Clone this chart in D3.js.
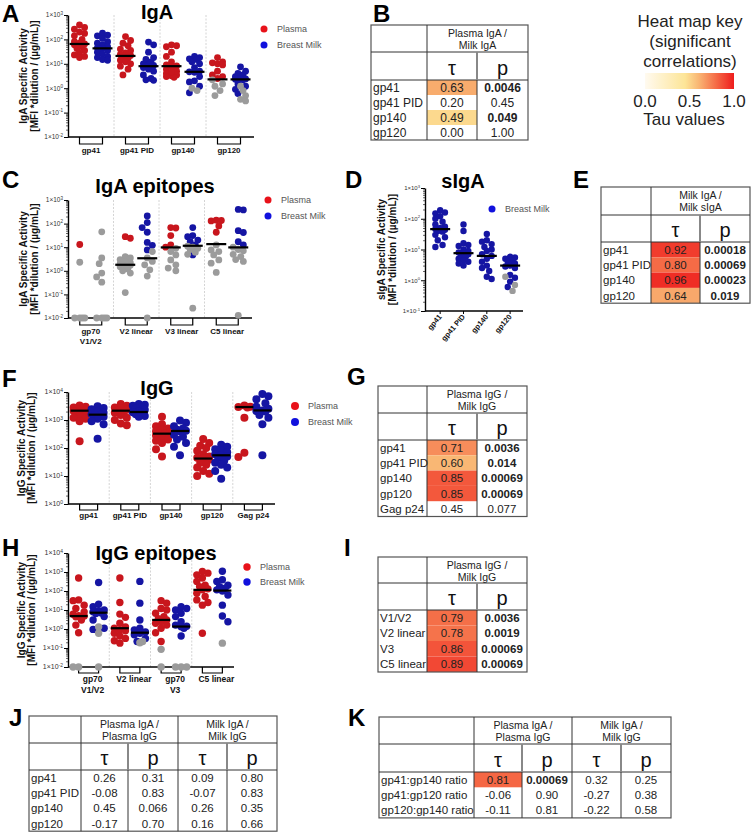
<!DOCTYPE html>
<html><head><meta charset="utf-8">
<script src="https://cdn.jsdelivr.net/npm/d3@7"></script>
<style>body{margin:0;background:#fff;} svg{display:block;}</style>
</head><body>
<svg id="chart" width="754" height="834"></svg>
<script>
// ---------------- DATA ----------------
// Panel A: IgA
const iga_cats = ["gp41","gp41 PID","gp140","gp120"];
const iga_plasma = [
  [390,310,260,200,175,140,100,80,70,65,60,50,42,35,28,23,18,20],
  [130,90,70,55,40,35,28,24,22,21,20,17,14,12,10,8,6,3.5],
  [60,55,50,30,20,12,9,8.2,8,7.5,6,5,4,3.5,3.2,3,2.8,4.5],
  [18,12,11,10,9,5,3.5,3,2.5]
];
const iga_plasma_grey = [[],[],[],[2.2,1.5,1.2,0.8,0.5]];
const iga_milk = [
  [180,150,140,110,80,70,60,50,45,43,40,35,30,25,20,18,15,14],
  [78,60,30,18,15,12,10,9,8.5,8,7.5,7,6,5,3.5,2.5,2.1,2.2],
  [20,18,16,15,12,10,7,5,4.7,4.5,3,2,1.8,1.2,0.65],
  [7.5,5,4,3.5,3,2.5,2.4,2.3,2.2,1.5,1.2,0.9,0.6]
];
const iga_milk_grey = [[],[],[1.0,0.8],[1.2,0.8,0.5,0.35,0.3]];
const iga_plasma_med = [65,21,8,2.3];
const iga_milk_med = [43,8,4.7,2.3];

// Panel C: IgA epitopes
const epiA_cats = ["gp70\nV1/V2","V2 linear","V3 linear","C5 linear"];
const epiA_plasma = [[13],[28,24],[68,65,31,12.5,10],[140,135,130,80,43]];
const epiA_plasma_grey = [[2.3,0.01,0.01,0.01,0.01],[4,3.5,3,2.5,2.2,2,1.9,1.8,1.7,1.6,1.5,1.2,1,0.8,0.12],[9,6.5,4.7,2.9,1.8,1.3,1],[12.5,7.7,6.5,4.7,2.9,2.1,0.85]];
const epiA_milk = [[],[210,110,68,43,16,12,7.7],[68,31,28,20,17,12.5,4.7],[400,380,50,42,17,12.5]];
const epiA_milk_grey = [[45,3.5,2,0.8,0.55,0.33,0.01,0.01,0.01,0.01],[6.5,3.5,2.5,1.8,1.1,0.6,0.01],[11,10,9,8,6,5,0.026],[10,8,7,5,4,3,2.5,0.013]];
const epiA_plasma_med = [null,1.8,9.8,13.5];
const epiA_milk_med = [null,3.4,11.5,9.8];

// Panel D: sIgA
const siga_cats = ["gp41","gp41 PID","gp140","gp120"];
const siga_milk = [
  [190,160,150,120,100,80,65,55,50,46,44,40,38,30,25,20,14,12],
  [65,40,16,14,13,10,9,8,7.6,7,6.5,6,5,4.5,4,3.5,3],
  [32,20,18,15,12,10,9,7,6.2,5,4,3,2.5,2,1.3,1.1],
  [5.8,5.5,5,4.5,4,3.5,3,2.8,2.5,1.5,1.2,0.9,0.6]
];
const siga_milk_grey = [[],[],[],[1.3,0.7,0.45]];
const siga_med = [46,7.6,6.2,3.0];

// Panel F: IgG
const igg_cats = ["gp41","gp41 PID","gp140","gp120","Gag p24"];
const igg_plasma = [
  [3300,3000,2800,2600,2400,2200,2150,2100,2000,1800,1600,1400,1200,1100,900,175],
  [3700,3200,2800,2600,2300,2150,2000,1800,1500,1200,1000,750,650],
  [1300,700,600,500,450,400,350,330,320,280,250,200,180,150,90,50],
  [210,150,120,100,80,60,50,45,42,38,30,25,20,15,12,10],
  [3300,3000,2900,2800,1200,68,48]
];
const igg_milk = [
  [3100,2700,2400,2000,1800,1600,1550,1500,1300,1100,900,700,215],
  [3700,3500,3200,2900,2600,2300,2000,1900,1800,1600,1400,1300],
  [950,800,600,500,450,410,400,300,250,200,150,110,55],
  [130,110,90,80,70,60,55,50,45,35,30,25,20,15,8],
  [8500,7000,5500,4000,3000,2500,2200,2100,2000,1500,1200,700,55]
];
const igg_plasma_med = [2150,2150,325,42,2900];
const igg_milk_med = [1550,1930,405,55,2200];

// Panel H: IgG epitopes
const epiG_cats = ["gp70\nV1/V2","V2 linear","gp70\nV3","C5 linear"];
const epiG_plasma = [
  [480,34,31,18,12,8,6,5,4.8,4.4,3,1.6,0.63],
  [480,25,6.1,4.1,2,1.3,1.1,0.9,0.8,0.6,0.43,0.32,0.24,0.18],
  [31,23,12,10,6.7,4.5,3.5,3,2.5,2,1.6,1.1,0.63,0.22],
  [1070,870,710,480,320,200,170,130,115,76,51,34,25,18,0.6]
];
const epiG_plasma_grey = [[0.01,0.01],[],[0.085,0.01],[]];
const epiG_milk = [
  [280,20,15,10,9,8,7,6.5,4.5,3,1.1,0.95],
  [320,23,3,1.1,0.9,0.7,0.6,0.5,0.32,0.22],
  [15,12,10,6.7,4.5,2.4,1.6,1.4,1.3,1.1,0.43],
  [1100,390,320,200,170,140,115,100,62,18,4.8,2.4]
];
const epiG_milk_grey = [[1.3,0.6,0.01],[0.22,0.19],[0.01,0.01,0.01],[0.18]];
const epiG_plasma_med = [4.8,1.1,3,115];
const epiG_milk_med = [7.2,0.64,1.35,105];

// Tables
const tabB_rows = ["gp41","gp41 PID","gp140","gp120"];
const tabB_tau = [0.63,0.20,0.49,0.00];
const tabB_p = ["0.0046","0.45","0.049","1.00"];

const tabE_rows = ["gp41","gp41 PID","gp140","gp120"];
const tabE_tau = [0.92,0.80,0.96,0.64];
const tabE_p = ["0.00018","0.00069","0.00023","0.019"];

const tabG_rows = ["gp41","gp41 PID","gp140","gp120","Gag p24"];
const tabG_tau = [0.71,0.60,0.85,0.85,0.45];
const tabG_p = ["0.0036","0.014","0.00069","0.00069","0.077"];

const tabI_rows = ["V1/V2","V2 linear","V3","C5 linear"];
const tabI_tau = [0.79,0.78,0.86,0.89];
const tabI_p = ["0.0036","0.0019","0.00069","0.00069"];

const tabJ_rows = ["gp41","gp41 PID","gp140","gp120"];
const tabJ_tau1 = [0.26,-0.08,0.45,-0.17];
const tabJ_p1 = ["0.31","0.83","0.066","0.70"];
const tabJ_tau2 = [0.09,-0.07,0.26,0.16];
const tabJ_p2 = ["0.80","0.83","0.35","0.66"];

const tabK_rows = ["gp41:gp140 ratio","gp41:gp120 ratio","gp120:gp140 ratio"];
const tabK_tau1 = [0.81,-0.06,-0.11];
const tabK_p1 = ["0.00069","0.90","0.81"];
const tabK_tau2 = [0.32,-0.27,-0.22];
const tabK_p2 = ["0.25","0.38","0.58"];

const keyTicks = [0.0, 0.5, 1.0];

// ---------------- DRAWING ----------------
const FONT = "'Liberation Sans', Arial, Helvetica, sans-serif";
const RED = "#c8161d", BLUE = "#1515a3", GREY = "#9b9b9b";
const LRED = "#e8121a", LBLUE = "#1111dd";
const svg = d3.select("#chart").attr("font-family", FONT);
const heat = d3.scaleLinear().domain([0,0.45,0.6,0.8,1])
  .range(["#fffaf0","#fde597","#f9b774","#f56b46","#ee1d1d"]);

function swarm(ys, r, maxOff) {
  const idx = d3.range(ys.length).sort((a,b) => ys[a]-ys[b]);
  const off = new Array(ys.length);
  const placed = [];
  const step = r*0.75;
  const nSteps = Math.max(0, Math.floor(maxOff/step));
  idx.forEach((i, n) => {
    const cands = [0];
    const sg = n % 2 ? 1 : -1;
    for (let k=1;k<=nSteps;k++) cands.push(sg*k*step, -sg*k*step);
    let best = null, bestO = 0, bestD = -1;
    for (const o of cands) {
      const d = placed.length ? d3.min(placed, p => Math.hypot(p[0]-o, p[1]-ys[i])) : Infinity;
      if (d >= 2*r*0.92) { best = o; break; }
      if (d > bestD) { bestD = d; bestO = o; }
    }
    if (best === null) best = bestO;
    off[i] = best;
    placed.push([best, ys[i]]);
  });
  return off;
}

function plot(c) {
  const g = svg.append("g");
  const y = d3.scaleLog().domain(c.domain).range([c.yBot, c.yTop]);
  const x = d3.scaleBand().domain(c.cats).range(c.band);
  const bw = x.bandwidth();
  const cx = d => x(d) + bw/2;
  const names = c.series.map(d => d.name);
  const s = d3.scalePoint().domain(names).range(names.length > 1 ? [-c.sub, c.sub] : [0, 0]);

  if (c.sep) {
    g.append("g").selectAll("line").data(c.cats.slice(1)).join("line")
      .attr("x1", d => x(d)).attr("x2", d => x(d))
      .attr("y1", c.yTop).attr("y2", c.yBot)
      .attr("stroke", "#c9c9c9").attr("stroke-width", 0.8).attr("stroke-dasharray", "2,1.5");
  }
  const e0 = Math.round(Math.log10(c.domain[0])), e1 = Math.round(Math.log10(c.domain[1]));
  const majors = d3.range(e0, e1+1).map(e => Math.pow(10, e));
  const minors = d3.merge(majors.slice(0,-1).map(m => d3.range(2,10).map(k => m*k)));
  const ya = g.append("g").attr("transform", `translate(${c.axisX},0)`)
    .call(d3.axisLeft(y).tickValues(majors).tickSize(4).tickSizeOuter(0).tickFormat(""));
  ya.select(".domain").attr("stroke-width", 1.4);
  const ym = g.append("g").attr("transform", `translate(${c.axisX},0)`)
    .call(d3.axisLeft(y).tickValues(minors).tickSize(2).tickSizeOuter(0).tickFormat(""));
  ym.select(".domain").remove();
  ym.selectAll("line").attr("stroke-width", 0.6);

  g.append("g").selectAll("text").data(majors).join("text")
    .attr("x", c.axisX - 5).attr("y", d => y(d) + 2.3)
    .attr("text-anchor", "end").attr("font-size", c.tickFs).attr("fill", "#333")
    .each(function(d) {
      const t = d3.select(this); const e = Math.round(Math.log10(d));
      t.append("tspan").text("1×10");
      t.append("tspan").attr("dy", -2.6).attr("font-size", c.tickFs*0.7).text(e < 0 ? "-" + (-e) : String(e));
    });

  // x axis
  g.append("line").attr("x1", c.axisX).attr("x2", c.axisEnd)
    .attr("y1", c.yBot).attr("y2", c.yBot).attr("stroke", "#000").attr("stroke-width", 1.4);
  if (c.bracket) {
    g.append("g").selectAll("path").data(c.cats).join("path")
      .attr("d", d => `M${cx(d)+s(names[0])},${c.yBot}V${c.yBot+c.bracket}H${cx(d)+s(names[names.length-1])}V${c.yBot}`)
      .attr("fill", "none").attr("stroke", "#000").attr("stroke-width", 1.2);
  }
  if (c.xTicks) {
    g.append("g").selectAll("line").data(c.cats).join("line")
      .attr("x1", cx).attr("x2", cx).attr("y1", c.yBot).attr("y2", c.yBot + 3)
      .attr("stroke", "#000").attr("stroke-width", 1);
  }

  // points
  const meds = [];
  c.series.forEach(ser => {
    c.cats.forEach((cat, ci) => {
      const pts = ser.values[ci].map(v => ({v, col: ser.color}))
        .concat((ser.grey[ci] || []).map(v => ({v, col: GREY})));
      const ys = pts.map(p => y(p.v));
      const offs = swarm(ys, c.r, c.spread);
      const x0 = cx(cat) + s(ser.name);
      g.append("g").selectAll("circle").data(pts).join("circle")
        .attr("cx", (d,i) => x0 + offs[i]).attr("cy", (d,i) => ys[i])
        .attr("r", c.r).attr("fill", d => d.col);
      if (ser.median[ci] != null) meds.push({x: x0, y: y(ser.median[ci])});
    });
  });
  g.append("g").selectAll("line").data(meds).join("line")
    .attr("x1", d => d.x - c.medW).attr("x2", d => d.x + c.medW)
    .attr("y1", d => d.y).attr("y2", d => d.y)
    .attr("stroke", "#000").attr("stroke-width", 2.2);

  // x labels
  if (c.rotLabels) {
    g.append("g").selectAll("text").data(c.cats).join("text")
      .attr("transform", d => `translate(${cx(d)+2},${c.yBot+6}) rotate(-50)`)
      .attr("text-anchor", "end").attr("font-size", c.labFs).attr("font-weight", "bold")
      .attr("fill", "#111").text(d => d);
  } else {
    const lg = g.append("g").selectAll("text").data(c.cats).join("text")
      .attr("x", d => cx(d) + (c.labDx||0)).attr("y", c.labY)
      .attr("text-anchor", "middle").attr("font-size", c.labFs).attr("font-weight", "bold").attr("fill", "#111");
    lg.each(function(d) {
      const t = d3.select(this);
      d.split("\n").forEach((line, i) => {
        t.append("tspan").attr("x", cx(d) + (c.labDx||0)).attr("dy", i ? c.labLH : 0).text(line);
      });
    });
  }

  // y title
  const ymid = (c.yTop + c.yBot) / 2 + (c.ytDy||0);
  c.ytitle.forEach((t, i) => {
    g.append("text").attr("transform", `translate(${c.ytX[i]},${ymid}) rotate(-90)`)
      .attr("text-anchor", "middle").attr("font-size", 10).attr("font-weight", "bold")
      .attr("fill", "#111").text(t);
  });

  // title
  g.append("text").attr("x", c.titleX).attr("y", c.titleY).attr("text-anchor", "middle")
    .attr("font-size", 20).attr("font-weight", "bold").attr("fill", "#000").text(c.title);

  // legend
  const leg = g.append("g").selectAll("g").data(c.series).join("g")
    .attr("transform", (d,i) => `translate(${c.legX},${c.legY + i*c.legDy})`);
  leg.append("circle").attr("r", c.legR).attr("fill", d => d.lcolor);
  leg.append("text").attr("x", 13).attr("y", 3.2).attr("font-size", 9).attr("fill", "#555").text(d => d.name);
}

function letter(t, x, y) {
  svg.append("text").attr("x", x).attr("y", y).attr("font-size", 24).attr("font-weight", "bold")
    .attr("fill", "#000").text(t);
}

const fmt2 = v => d3.format(".2f")(v).replace("\u2212", "-");

function table(c) {
  const g = svg.append("g");
  const xs = [c.x]; c.colW.forEach(w => xs.push(xs[xs.length-1] + w));
  const yH1 = c.y + c.h1, yH2 = yH1 + c.h2;
  const n = c.rows.length;
  const yEnd = yH2 + n * c.rowH;
  const right = xs[xs.length-1];
  const cells = [];
  c.groups.forEach((gr, k) => {
    c.rows.forEach((r, i) => {
      const sig = +gr.p[i] < 0.05;
      cells.push({col: 1+2*k, row: i, text: fmt2(gr.tau[i]), bold: false, fill: sig ? heat(gr.tau[i]) : null});
      cells.push({col: 2+2*k, row: i, text: gr.p[i], bold: sig, fill: null});
    });
  });
  g.append("g").selectAll("rect").data(cells.filter(d => d.fill)).join("rect")
    .attr("x", d => xs[d.col]).attr("y", d => yH2 + d.row*c.rowH)
    .attr("width", d => c.colW[d.col]).attr("height", c.rowH).attr("fill", d => d.fill);
  g.append("g").selectAll("text").data(cells).join("text")
    .attr("x", d => xs[d.col] + c.colW[d.col]/2).attr("y", d => yH2 + d.row*c.rowH + c.rowH*0.77)
    .attr("text-anchor", "middle").attr("font-size", c.fs).attr("font-weight", d => d.bold ? "bold" : "normal")
    .attr("fill", "#222").text(d => d.text);
  g.append("g").selectAll("text").data(c.rows).join("text")
    .attr("x", c.x + 2).attr("y", (d,i) => yH2 + i*c.rowH + c.rowH*0.77)
    .attr("font-size", c.fs).attr("fill", "#222").text(d => d);
  c.groups.forEach((gr, k) => {
    const x1 = xs[1+2*k], x2 = xs[3+2*k];
    gr.head.forEach((t, j) => {
      g.append("text").attr("x", (x1+x2)/2).attr("y", c.y + 11.5 + j*12.5)
        .attr("text-anchor", "middle").attr("font-size", c.hfs).attr("fill", "#222").text(t);
    });
    ["τ", "p"].forEach((t, j) => {
      g.append("text").attr("x", xs[1+2*k+j] + c.colW[1+2*k+j]/2).attr("y", yH2 - 5)
        .attr("text-anchor", "middle").attr("font-size", 20).attr("fill", "#111").text(t);
    });
  });
  const L = (x1,y1,x2,y2,col,w) => g.append("line").attr("x1",x1).attr("y1",y1).attr("x2",x2).attr("y2",y2)
    .attr("stroke", col).attr("stroke-width", w);
  g.append("rect").attr("x", c.x).attr("y", c.y).attr("width", right - c.x).attr("height", yEnd - c.y)
    .attr("fill", "none").attr("stroke", "#555").attr("stroke-width", 1.2);
  L(c.x, yH1, right, yH1, "#333", 1);
  L(c.x, yH2, right, yH2, "#333", 1);
  L(xs[1], c.y, xs[1], yEnd, "#333", 1);
  c.groups.forEach((gr, k) => {
    if (k > 0) L(xs[1+2*k], c.y, xs[1+2*k], yEnd, "#333", 1);
    L(xs[2+2*k], yH1, xs[2+2*k], yH2, "#888", 2);
    L(xs[2+2*k], yH2, xs[2+2*k], yEnd, "#333", 1);
  });
}

// ---- Panel A
letter("A", 2, 22);
plot({
  domain: [0.01, 1000], yTop: 15, yBot: 137, axisX: 68, band: [68, 252], axisEnd: 254,
  cats: iga_cats, sub: 11.5, r: 3.4, spread: 7, medW: 10, sep: true, bracket: 7,
  tickFs: 6.5, labFs: 8, labY: 153, labLH: 9.5,
  ytitle: ["IgA Specific Activity", "[MFI *dilution / (µg/mL)]"], ytX: [26.5, 37.5],
  title: "IgA", titleX: 157, titleY: 19,
  legX: 264, legY: 29, legDy: 16, legR: 3.5,
  series: [
    {name: "Plasma", values: iga_plasma, grey: iga_plasma_grey, median: iga_plasma_med, color: RED, lcolor: LRED},
    {name: "Breast Milk", values: iga_milk, grey: iga_milk_grey, median: iga_milk_med, color: BLUE, lcolor: LBLUE}
  ]
});

// ---- Panel C
letter("C", 2, 188);
plot({
  domain: [0.01, 1000], yTop: 200, yBot: 318, axisX: 68, band: [68, 250], axisEnd: 252,
  cats: epiA_cats, sub: 11, r: 3.4, spread: 7, medW: 10, sep: true, bracket: 7,
  tickFs: 6.5, labFs: 8, labY: 334, labLH: 9.5,
  ytitle: ["IgA Specific Activity", "[MFI *dilution / (µg/mL)]"], ytX: [26.5, 37.5],
  title: "IgA epitopes", titleX: 155, titleY: 193,
  legX: 268, legY: 200, legDy: 16, legR: 3.5,
  series: [
    {name: "Plasma", values: epiA_plasma, grey: epiA_plasma_grey, median: epiA_plasma_med, color: RED, lcolor: LRED},
    {name: "Breast Milk", values: epiA_milk, grey: epiA_milk_grey, median: epiA_milk_med, color: BLUE, lcolor: LBLUE}
  ]
});

// ---- Panel D
letter("D", 345, 188);
plot({
  domain: [0.1, 1000], yTop: 188, yBot: 311, axisX: 425, band: [428.5, 521.8], axisEnd: 523,
  cats: siga_cats, sub: 0, r: 3.2, spread: 7, medW: 10, sep: false, bracket: 0, xTicks: true,
  tickFs: 6, labFs: 7.5, rotLabels: true,
  ytitle: ["sIgA Specific Activity", "[MFI *dilution / (µg/mL)]"], ytX: [385, 395.5],
  title: "sIgA", titleX: 463, titleY: 188,
  legX: 492, legY: 209, legDy: 16, legR: 3.5,
  series: [
    {name: "Breast Milk", values: siga_milk, grey: siga_milk_grey, median: siga_med, color: BLUE, lcolor: LBLUE}
  ]
});

// ---- Panel F
letter("F", 2, 387);
plot({
  domain: [1, 10000], yTop: 392, yBot: 504, axisX: 68, band: [68, 274], axisEnd: 275,
  cats: igg_cats, sub: 9, r: 4, spread: 6, medW: 9, sep: true, bracket: 6,
  tickFs: 7, labFs: 8, labY: 518, labLH: 9.5,
  ytitle: ["IgG Specific Activity", "[MFI *dilution / (µg/mL)]"], ytX: [24.5, 35],
  title: "IgG", titleX: 157, titleY: 395,
  legX: 295, legY: 406, legDy: 16, legR: 4,
  series: [
    {name: "Plasma", values: igg_plasma, grey: [[],[],[],[],[]], median: igg_plasma_med, color: RED, lcolor: LRED},
    {name: "Breast Milk", values: igg_milk, grey: [[],[],[],[],[]], median: igg_milk_med, color: BLUE, lcolor: LBLUE}
  ]
});

// ---- Panel H
letter("H", 2, 556);
plot({
  domain: [0.01, 10000], yTop: 553, yBot: 667, axisX: 68, band: [68, 233], axisEnd: 234,
  cats: epiG_cats, sub: 10, r: 3.7, spread: 6, medW: 9, sep: true, bracket: 6,
  tickFs: 7, labFs: 8.5, labY: 682, labLH: 11, labDx: 4,
  ytitle: ["IgG Specific Activity", "[MFI *dilution / (µg/mL)]"], ytX: [24.5, 35],
  title: "IgG epitopes", titleX: 156, titleY: 560,
  legX: 247, legY: 567, legDy: 15, legR: 3.7,
  series: [
    {name: "Plasma", values: epiG_plasma, grey: epiG_plasma_grey, median: epiG_plasma_med, color: RED, lcolor: LRED},
    {name: "Breast Milk", values: epiG_milk, grey: epiG_milk_grey, median: epiG_milk_med, color: BLUE, lcolor: LBLUE}
  ]
});

// ---- Tables
letter("B", 373, 22);
table({x: 371, y: 25, colW: [56,50,51], h1: 27, h2: 28, rowH: 15, fs: 12, hfs: 10.5, rows: tabB_rows,
  groups: [{head: ["Plasma IgA /", "Milk IgA"], tau: tabB_tau, p: tabB_p}]});
letter("E", 573, 188);
table({x: 601, y: 187, colW: [50,49,50], h1: 28, h2: 27, rowH: 15.3, fs: 11.5, hfs: 10.5, rows: tabE_rows,
  groups: [{head: ["Milk IgA /", "Milk sIgA"], tau: tabE_tau, p: tabE_p}]});
letter("G", 347, 385);
table({x: 378, y: 386, colW: [49,50,50], h1: 27, h2: 27, rowH: 15.3, fs: 11.5, hfs: 10.5, rows: tabG_rows,
  groups: [{head: ["Plasma IgG /", "Milk IgG"], tau: tabG_tau, p: tabG_p}]});
letter("I", 344, 556);
table({x: 378, y: 557, colW: [49,50,50], h1: 26, h2: 27, rowH: 15.5, fs: 11.5, hfs: 10.5, rows: tabI_rows,
  groups: [{head: ["Plasma IgG /", "Milk IgG"], tau: tabI_tau, p: tabI_p}]});
letter("J", 9, 726);
table({x: 29, y: 716, colW: [52,47,50,49,50], h1: 27, h2: 27, rowH: 15.3, fs: 11.5, hfs: 10.5, rows: tabJ_rows,
  groups: [{head: ["Plasma IgA /", "Plasma IgG"], tau: tabJ_tau1, p: tabJ_p1},
           {head: ["Milk IgA /", "Milk IgG"], tau: tabJ_tau2, p: tabJ_p2}]});
letter("K", 348, 726);
table({x: 379, y: 717, colW: [95,48,50,49,50], h1: 27, h2: 28, rowH: 15.3, fs: 11.5, hfs: 10.5, rows: tabK_rows,
  groups: [{head: ["Plasma IgA /", "Plasma IgG"], tau: tabK_tau1, p: tabK_p1},
           {head: ["Milk IgA /", "Milk IgG"], tau: tabK_tau2, p: tabK_p2}]});

// ---- Heat map key
const key = svg.append("g");
["Heat map key", "(significant", "correlations)"].forEach((t, i) => {
  key.append("text").attr("x", 690).attr("y", 27 + i*20).attr("text-anchor", "middle")
    .attr("font-size", 17).attr("fill", "#222").text(t);
});
const grad = svg.append("defs").append("linearGradient").attr("id", "hk");
grad.selectAll("stop").data(d3.range(0, 1.0001, 0.05)).join("stop")
  .attr("offset", d => d).attr("stop-color", d => heat(d));
const kx = d3.scaleLinear().domain([0, 1]).range([645, 734]);
key.append("rect").attr("x", kx(0)).attr("y", 73).attr("width", kx(1) - kx(0)).attr("height", 16)
  .attr("fill", "url(#hk)");
key.selectAll(".kt").data(keyTicks).join("text").attr("x", d => kx(d)).attr("y", 107)
  .attr("text-anchor", "middle").attr("font-size", 17).attr("fill", "#222").text(d => d.toFixed(1));
key.append("text").attr("x", 684).attr("y", 125).attr("text-anchor", "middle")
  .attr("font-size", 17).attr("fill", "#222").text("Tau values");
</script>
</body></html>
